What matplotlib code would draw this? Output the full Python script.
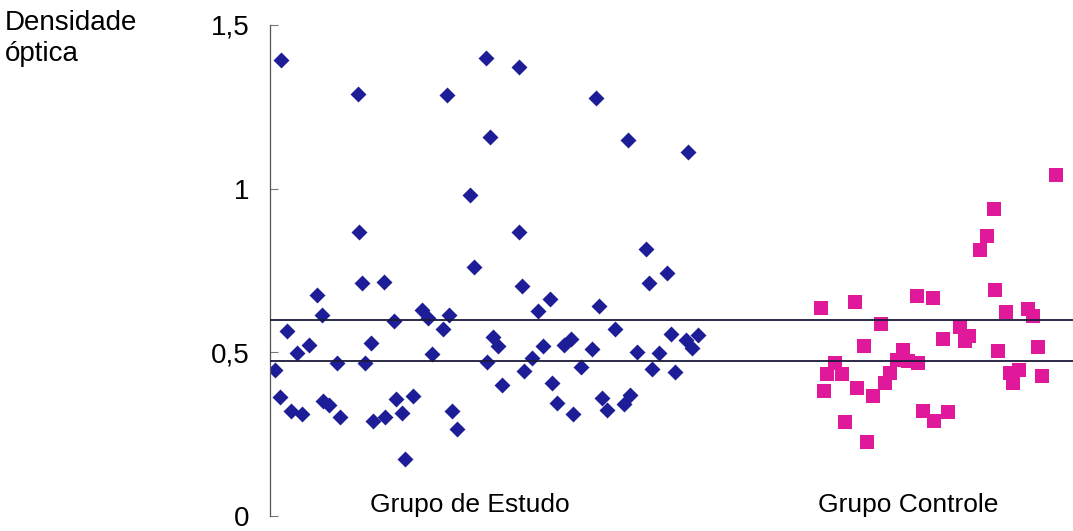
import matplotlib.pyplot as plt

plt.rcParams['font.family'] = ['Liberation Sans', 'DejaVu Sans']

# horizontal position of each sample along the axis (arbitrary units)
study_x = [11, 216, 249, 88, 177, 326, 220, 358, 418, 200, 89, 249, 376, 204, 379, 397, 92,
           114, 252, 47, 280, 52, 268, 329, 152, 158, 179, 124, 173, 17, 345, 401, 101,
           39, 27, 223, 228, 273, 294, 301, 322, 416, 428, 422, 367, 389, 162, 67, 95,
           217, 262, 5, 254, 311, 382, 405, 232, 282, 10, 53, 59, 126, 143, 332, 360,
           354, 21, 32, 70, 103, 115, 132, 182, 287, 337, 303, 187, 135]
study_y = [1.394, 1.398, 1.373, 1.29, 1.287, 1.278, 1.159, 1.150, 1.113, 0.982, 0.868, 0.868,
           0.817, 0.760, 0.712, 0.743, 0.712, 0.716, 0.703, 0.676, 0.664, 0.615, 0.627,
           0.642, 0.630, 0.605, 0.615, 0.596, 0.572, 0.566, 0.572, 0.557, 0.529, 0.523,
           0.498, 0.547, 0.520, 0.520, 0.523, 0.541, 0.511, 0.538, 0.553, 0.514, 0.502,
           0.498, 0.495, 0.468, 0.468, 0.471, 0.483, 0.446, 0.443, 0.456, 0.450, 0.440,
           0.401, 0.407, 0.364, 0.352, 0.339, 0.358, 0.367, 0.361, 0.370, 0.343, 0.321,
           0.312, 0.303, 0.291, 0.303, 0.315, 0.321, 0.346, 0.324, 0.312, 0.266, 0.174]

control_x = [786, 724, 717, 710, 725, 647, 663, 585, 551, 736, 758, 763, 611, 690, 699, 695,
             673, 594, 728, 768, 633, 627, 648, 638, 565, 557, 572, 620, 740, 749, 772, 743,
             615, 554, 587, 603, 653, 678, 664, 575, 597]
control_y = [1.043, 0.939, 0.856, 0.813, 0.691, 0.673, 0.667, 0.654, 0.636, 0.624, 0.633,
             0.612, 0.587, 0.578, 0.550, 0.535, 0.541, 0.520, 0.505, 0.517, 0.508, 0.477,
             0.468, 0.474, 0.468, 0.434, 0.434, 0.437, 0.437, 0.446, 0.428, 0.407, 0.407,
             0.382, 0.391, 0.367, 0.321, 0.318, 0.291, 0.287, 0.226]

cutoff_lines = [0.600, 0.475]
y_ticks = [0, 0.5, 1, 1.5]
y_tick_labels = ['0', '0,5', '1', '1,5']

fig = plt.figure(figsize=(10.73, 5.31), dpi=100)
ax = fig.add_axes([0.2516, 0.028, 0.7484, 0.925])

for yv in cutoff_lines:
    ax.axhline(yv, color='#1a1a3a', lw=1.3, zorder=3)

ax.scatter(study_x, study_y, marker='D', s=66, color='#1d1d98', linewidths=0, zorder=2)
ax.scatter(control_x, control_y, marker='s', s=100, color='#e0189a', linewidths=0, zorder=2)

ax.set_xlim(0, 803)
ax.set_ylim(0, 1.5)
ax.set_yticks(y_ticks)
ax.set_yticklabels(y_tick_labels, fontsize=20)
ax.tick_params(axis='y', direction='in', length=6, width=0.8, color='#777777', pad=15)
ax.set_xticks([])
for side in ['top', 'right', 'bottom']:
    ax.spines[side].set_visible(False)
ax.spines['left'].set_color('#555555')
ax.spines['left'].set_linewidth(0.9)

ax.text(200, 0.035, 'Grupo de Estudo', fontsize=19, ha='center', va='center')
ax.text(638, 0.035, 'Grupo Controle', fontsize=19, ha='center', va='center')

fig.text(5 / 1073, 1 - 10 / 531, 'Densidade\nóptica', fontsize=20, ha='left', va='top',
         linespacing=1.25)

fig.savefig('out.png', dpi=100, facecolor='white')
